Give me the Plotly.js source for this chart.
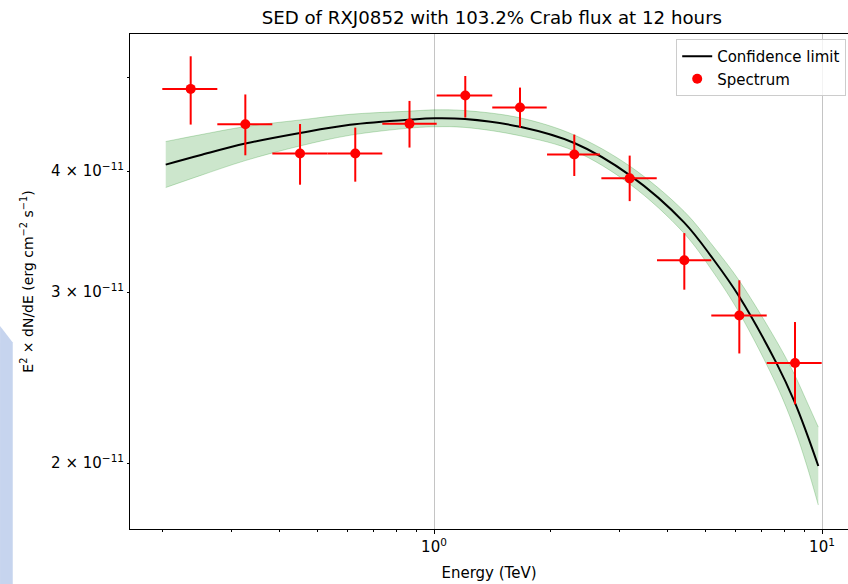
<!DOCTYPE html>
<html>
<head>
<meta charset="utf-8">
<script src="https://cdn.plot.ly/plotly-3.0.1.min.js"></script>
<style>html,body{margin:0;padding:0;background:#fff;}#chart{width:848px;height:584px;}</style>
</head>
<body>
<div id="chart"></div>
<script>
// Spectrum points (Energy in TeV, E^2 dN/dE in erg cm^-2 s^-1)
const energy     = [0.2360, 0.3264, 0.4516, 0.6267, 0.8647, 1.204, 1.666, 2.299, 3.194, 4.417, 6.122, 8.519];
const energyLow  = [0.1994, 0.2764, 0.3831, 0.5314, 0.7358, 1.016, 1.413, 1.956, 2.700, 3.756, 5.184, 7.203];
const energyHigh = [0.2764, 0.3831, 0.5314, 0.7358, 1.016, 1.413, 1.952, 2.679, 3.750, 5.184, 7.203, 9.980];
const flux       = [4.861e-11, 4.469e-11, 4.169e-11, 4.169e-11, 4.474e-11, 4.785e-11, 4.651e-11, 4.159e-11, 3.931e-11, 3.236e-11, 2.838e-11, 2.536e-11];
const fluxHigh   = [5.252e-11, 4.797e-11, 4.472e-11, 4.434e-11, 4.724e-11, 5.012e-11, 4.876e-11, 4.361e-11, 4.149e-11, 3.452e-11, 3.086e-11, 2.795e-11];
const fluxLow    = [4.466e-11, 4.152e-11, 3.872e-11, 3.900e-11, 4.229e-11, 4.541e-11, 4.434e-11, 3.953e-11, 3.724e-11, 3.018e-11, 2.594e-11, 2.299e-11];

// Model curve and confidence band
const modelE     = [0.2035, 0.2494, 0.3264, 0.4515, 0.6074, 0.8673, 1.006, 1.202, 1.666, 2.299, 3.201, 4.410, 5.246, 6.110, 7.644, 8.487, 9.134, 9.783];
const modelFlux  = [4.061e-11, 4.152e-11, 4.269e-11, 4.378e-11, 4.464e-11, 4.519e-11, 4.533e-11, 4.525e-11, 4.443e-11, 4.275e-11, 3.959e-11, 3.541e-11, 3.244e-11, 2.971e-11, 2.532e-11, 2.315e-11, 2.146e-11, 1.986e-11];
const bandUpper  = [4.290e-11, 4.359e-11, 4.445e-11, 4.515e-11, 4.576e-11, 4.611e-11, 4.625e-11, 4.617e-11, 4.538e-11, 4.357e-11, 4.045e-11, 3.635e-11, 3.345e-11, 3.086e-11, 2.669e-11, 2.469e-11, 2.315e-11, 2.178e-11];
const bandLower  = [3.846e-11, 3.956e-11, 4.100e-11, 4.245e-11, 4.354e-11, 4.429e-11, 4.443e-11, 4.436e-11, 4.349e-11, 4.195e-11, 3.876e-11, 3.450e-11, 3.145e-11, 2.860e-11, 2.404e-11, 2.172e-11, 1.989e-11, 1.810e-11];

const xMajorVals = [1, 10];
const xMajorText = ['10<sup>0</sup>', '10<sup>1</sup>'];
const xMinorVals = [0.2, 0.3, 0.4, 0.5, 0.6, 0.7, 0.8, 0.9, 2, 3, 4, 5, 6, 7, 8, 9];
const yTickVals  = [2e-11, 3e-11, 4e-11, 5e-11];
const yTickText  = ['2 × 10<sup>−11</sup>', '3 × 10<sup>−11</sup>', '4 × 10<sup>−11</sup>', ''];

const FONT = 'DejaVu Sans, sans-serif';

const traces = [
  {
    x: modelE, y: bandLower, type: 'scatter', mode: 'lines',
    line: {color: 'rgba(0,128,0,0.22)', width: 1, shape: 'spline', smoothing: 1},
    showlegend: false, hoverinfo: 'skip'
  },
  {
    x: modelE, y: bandUpper, type: 'scatter', mode: 'lines',
    line: {color: 'rgba(0,128,0,0.22)', width: 1, shape: 'spline', smoothing: 1},
    fill: 'tonexty', fillcolor: 'rgba(0,128,0,0.2)',
    showlegend: false, hoverinfo: 'skip'
  },
  {
    x: modelE, y: modelFlux, type: 'scatter', mode: 'lines',
    name: 'Confidence limit', legendgroup: 'a',
    line: {color: '#000000', width: 2, shape: 'spline', smoothing: 1}
  },
  {
    x: energy, y: flux, type: 'scatter', mode: 'markers',
    name: 'Spectrum', legendgroup: 'b',
    marker: {color: '#ff0000', size: 10},
    error_x: {
      type: 'data', symmetric: false,
      array: energy.map((v, i) => energyHigh[i] - v),
      arrayminus: energy.map((v, i) => v - energyLow[i]),
      color: '#ff0000', thickness: 2, width: 0
    },
    error_y: {
      type: 'data', symmetric: false,
      array: flux.map((v, i) => fluxHigh[i] - v),
      arrayminus: flux.map((v, i) => v - fluxLow[i]),
      color: '#ff0000', thickness: 2, width: 0
    }
  }
];

const layout = {
  width: 848, height: 584,
  margin: {l: 130, r: 0, t: 34, b: 55},
  paper_bgcolor: '#ffffff', plot_bgcolor: '#ffffff',
  font: {family: FONT, size: 15, color: '#000000'},
  title: {
    text: 'SED of RXJ0852 with 103.2% Crab flux at 12 hours',
    font: {family: FONT, size: 18.2, color: '#000000'},
    xref: 'paper', x: 0.504, xanchor: 'center',
    yref: 'container', y: 1 - 18 / 584, yanchor: 'middle'
  },
  xaxis: {
    type: 'log', range: [-0.7835, 1.067],
    tickmode: 'array', tickvals: xMajorVals, ticktext: xMajorText,
    ticks: 'outside', ticklen: 4, tickwidth: 1, tickcolor: '#000',
    showline: true, linecolor: '#000', linewidth: 1, mirror: true,
    showgrid: true, gridcolor: '#c4c4c4', gridwidth: 1,
    zeroline: false,
    tickfont: {family: FONT, size: 15, color: '#000'},
    minor: {tickmode: 'array', tickvals: xMinorVals, ticks: 'outside', ticklen: 2, tickwidth: 1, tickcolor: '#000', showgrid: false},
    title: {text: 'Energy (TeV)', font: {family: FONT, size: 15, color: '#000'}, standoff: 12}
  },
  yaxis: {
    type: 'log', range: [-10.767, -10.2567],
    tickmode: 'array', tickvals: yTickVals, ticktext: yTickText,
    ticks: 'outside', ticklen: 2, tickwidth: 1, tickcolor: '#000',
    showline: true, linecolor: '#000', linewidth: 1, mirror: false,
    showgrid: false, zeroline: false,
    tickfont: {family: FONT, size: 15, color: '#000'},
    title: {text: 'E<sup>2</sup> × dN/dE (erg cm<sup>−2</sup> s<sup>−1</sup>)', font: {family: FONT, size: 14, color: '#000'}, standoff: 14}
  },
  legend: {
    x: 0.9975, xanchor: 'right', y: 0.99, yanchor: 'top',
    bgcolor: 'rgba(255,255,255,0.8)', bordercolor: '#cccccc', borderwidth: 1,
    font: {family: FONT, size: 15, color: '#000'},
    traceorder: 'grouped', tracegroupgap: 0
  },
  shapes: [
    {
      type: 'path', xref: 'paper', yref: 'paper', layer: 'below',
      path: 'M -0.181,0.410 L -0.1633,0.377 L -0.1633,-0.111 L -0.181,-0.111 Z',
      fillcolor: '#c6d4ee', line: {width: 0}
    }
  ],
  showlegend: true
};

Plotly.newPlot('chart', traces, layout, {displayModeBar: false, staticPlot: true});
</script>
</body>
</html>
